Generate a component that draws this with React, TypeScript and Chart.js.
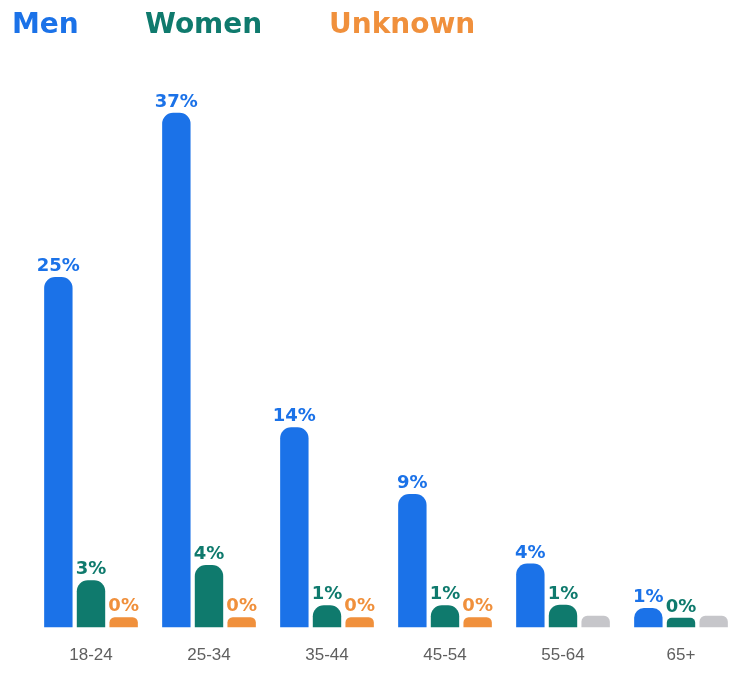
import React, { useEffect, useRef } from "react";
import { Chart, registerables } from "chart.js";

Chart.register(...registerables);

const categories = ["18-24", "25-34", "35-44", "45-54", "55-64", "65+"];
const seriesNames = ["Men", "Women", "Unknown"];
const menValues = [25.2, 37.0, 14.4, 9.6, 4.6, 1.4];
const womenValues = [3.4, 4.5, 1.6, 1.6, 1.65, 0.7];
const unknownValues = [0.75, 0.75, 0.75, 0.75, 0.85, 0.85];
const unknownHasData = [true, true, true, true, false, false];

const BLUE = "#1b72e8";
const TEAL = "#0f7a6d";
const ORANGE = "#f0903c";
const GRAY = "#c6c6ca";
const seriesColors = [BLUE, TEAL, ORANGE];

const valueLabels = {
  id: "valueLabels",
  afterDatasetsDraw(chart: any) {
    const ctx = chart.ctx;
    ctx.save();
    ctx.font = "bold 18px 'DejaVu Sans'";
    ctx.textAlign = "center";
    ctx.textBaseline = "alphabetic";
    chart.data.datasets.forEach((ds: any, di: number) => {
      const meta = chart.getDatasetMeta(di);
      meta.data.forEach((bar: any, i: number) => {
        if (di === 2 && !unknownHasData[i]) return;
        const v = ds.data[i] as number;
        ctx.fillStyle = seriesColors[di];
        ctx.fillText(Math.floor(v) + "%", bar.x, bar.y - 6);
      });
    });
    ctx.restore();
  },
};

export default function App() {
  const ref = useRef<HTMLCanvasElement | null>(null);

  useEffect(() => {
    if (!ref.current) return;
    const chart = new Chart(ref.current, {
      type: "bar",
      data: {
        labels: categories,
        datasets: [
          {
            label: seriesNames[0],
            data: menValues,
            backgroundColor: BLUE,
          },
          {
            label: seriesNames[1],
            data: womenValues,
            backgroundColor: TEAL,
          },
          {
            label: seriesNames[2],
            data: unknownValues,
            backgroundColor: unknownHasData.map((h) => (h ? ORANGE : GRAY)),
          },
        ],
      },
      options: {
        responsive: false,
        maintainAspectRatio: false,
        animation: false,
        devicePixelRatio: 1,
        layout: { padding: { left: 32, right: 10, top: 71, bottom: 8 } },
        datasets: {
          bar: {
            categoryPercentage: 0.83,
            barPercentage: 0.87,
            borderRadius: 11,
            borderSkipped: "bottom",
          },
        },
        plugins: {
          legend: { display: false },
          tooltip: { enabled: false },
        },
        scales: {
          x: {
            grid: { display: false, drawTicks: false },
            border: { display: false },
            ticks: {
              color: "#5f5f5f",
              padding: 18,
              font: { family: "'Liberation Sans'", size: 17 },
            },
          },
          y: {
            display: false,
            min: 0,
            max: 40,
          },
        },
      },
      plugins: [valueLabels],
    } as any);
    return () => chart.destroy();
  }, []);

  const legendStyle = (left: number, color: string): React.CSSProperties => ({
    position: "absolute",
    left,
    top: 10,
    fontFamily: "'DejaVu Sans'",
    fontWeight: "bold",
    fontSize: 28,
    lineHeight: "28px",
    color,
    whiteSpace: "nowrap",
  });

  return (
    <div
      style={{
        position: "absolute",
        left: 0,
        top: 0,
        width: 731,
        height: 692,
        overflow: "hidden",
        background: "#ffffff",
      }}
    >
      <canvas ref={ref} width={750} height={692} style={{ display: "block" }} />
      <span style={legendStyle(12, BLUE)}>{seriesNames[0]}</span>
      <span style={legendStyle(145, TEAL)}>{seriesNames[1]}</span>
      <span style={legendStyle(329, ORANGE)}>{seriesNames[2]}</span>
    </div>
  );
}
